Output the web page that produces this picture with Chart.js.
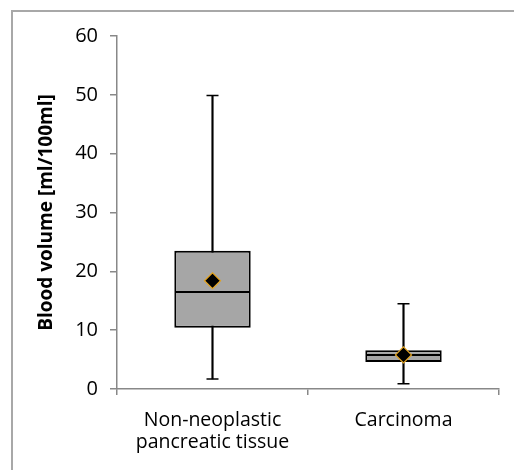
<!DOCTYPE html>
<html>
<head>
<meta charset="utf-8">
<script src="https://cdn.jsdelivr.net/npm/chart.js@4.4.1/dist/chart.umd.min.js"></script>
<style>
    body { margin: 0; background: #fff; overflow: hidden; }
    #wrap { position: relative; width: 514px; height: 470px; }
    #frame { position: absolute; left: 11px; top: 10px; width: 600px; height: 600px; border: 2px solid #a8a8a8; }
    #chart { position: absolute; left: 0; top: 0; }
</style>
</head>
<body>
<div id="wrap">
    <div id="frame"></div>
    <canvas id="chart" width="514" height="470"></canvas>
</div>
<script>
const categories = [["Non-neoplastic", "pancreatic tissue"], "Carcinoma"];
const minValues = [1.7, 0.9];
const q1Values = [10.4, 4.6];
const medianValues = [16.3, 5.6];
const q3Values = [23.5, 6.6];
const maxValues = [49.9, 14.5];
const meanValues = [18.4, 5.8];
const yMin = 0, yMax = 60, yStep = 10;

const boxFill = "#a6a6a6";
const font = "Open Sans";

const lowerBox = q1Values.map((q, i) => [q, medianValues[i]]);
const upperBox = medianValues.map((m, i) => [m, q3Values[i]]);
const whiskers = minValues.map((m, i) => [m, maxValues[i]]);

const boxStyle = {
    type: "bar",
    backgroundColor: boxFill,
    borderColor: "#000",
    borderWidth: 2,
    borderSkipped: false,
    grouped: false,
    barPercentage: 0.4,
    categoryPercentage: 1,
    order: 2
};

const capStyle = {
    type: "line",
    showLine: false,
    pointStyle: "line",
    pointRadius: 6,
    pointBorderWidth: 1.5,
    pointBorderColor: "#000",
    order: 1
};

new Chart(document.getElementById("chart"), {
    data: {
        labels: categories,
        datasets: [
            { ...capStyle, data: meanValues, pointStyle: "rectRot", pointRadius: 8,
              pointBackgroundColor: "#000", pointBorderColor: "#e6a520", pointBorderWidth: 1.2, order: 0 },
            { ...capStyle, data: minValues },
            { ...capStyle, data: maxValues },
            { ...boxStyle, data: lowerBox, borderSkipped: "top" },
            { ...boxStyle, data: upperBox },
            { type: "bar", data: whiskers, backgroundColor: "#000", barThickness: 1.5,
              grouped: false, order: 3 }
        ]
    },
    options: {
        responsive: false,
        animation: false,
        layout: { padding: { left: 35, top: 36, right: 15, bottom: 0 } },
        plugins: { legend: { display: false }, tooltip: { enabled: false } },
        scales: {
            x: {
                offset: true,
                afterFit: (scale) => { scale.height = 81; },
                grid: { display: true, offset: true, drawOnChartArea: false, tickLength: 6, color: "#888", lineWidth: 1.5 },
                border: { color: "#888", width: 1.5 },
                ticks: { color: "#000", padding: 14, font: { family: font, size: 19.5, lineHeight: 1.15 } }
            },
            y: {
                min: yMin,
                max: yMax,
                afterFit: (scale) => { scale.width = 82; },
                grid: { drawOnChartArea: false, tickLength: 7, color: "#888", lineWidth: 1.5 },
                border: { color: "#888", width: 1.5 },
                ticks: { stepSize: yStep, color: "#000", padding: 12, font: { family: font, size: 20 } },
                title: {
                    display: true,
                    text: "Blood volume [ml/100ml]",
                    color: "#000",
                    padding: { top: 0, bottom: 0 },
                    font: { family: font, size: 19, weight: "bold" }
                }
            }
        }
    }
});
</script>
</body>
</html>
